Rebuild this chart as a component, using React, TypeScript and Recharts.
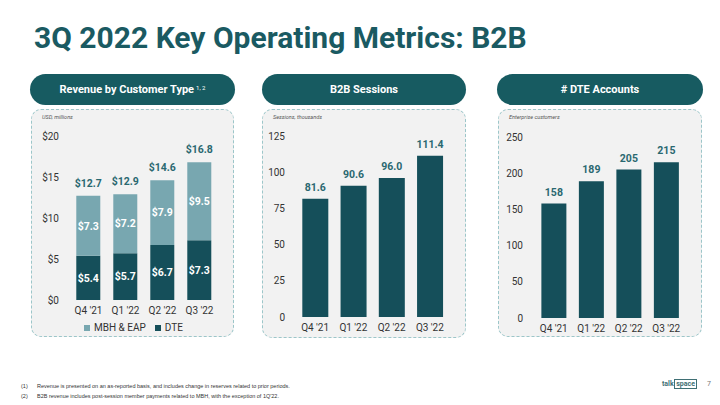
import { Bar, BarChart, LabelList, Legend, XAxis, YAxis } from "recharts";

const quarters = ["Q4 '21", "Q1 '22", "Q2 '22", "Q3 '22"];
const revenueDte = [5.4, 5.7, 6.7, 7.3];
const revenueMbh = [7.3, 7.2, 7.9, 9.5];
const revenueTotal = [12.7, 12.9, 14.6, 16.8];
const revenueTicks = [0, 5, 10, 15, 20];
const sessions = [81.6, 90.6, 96.0, 111.4];
const sessionTicks = [0, 25, 50, 75, 100, 125];
const dteAccounts = [158, 189, 205, 215];
const accountTicks = [0, 50, 100, 150, 200, 250];

const DARK = "#154f5a";
const LIGHT = "#78a7b0";
const TEAL_TEXT = "#2a6870";
const TICK = { fill: "#333", fontSize: 10, fontFamily: "Roboto" };

const revenueData = quarters.map((q, i) => ({
  q,
  dte: revenueDte[i],
  mbh: revenueMbh[i],
  total: revenueTotal[i],
}));
const sessionData = quarters.map((q, i) => ({ q, v: sessions[i] }));
const accountData = quarters.map((q, i) => ({ q, v: dteAccounts[i] }));

const topLabel = { fill: TEAL_TEXT, fontSize: 10.5, fontWeight: 700, fontFamily: "Roboto" };
const innerLabel = { fill: "#fff", fontSize: 10.5, fontWeight: 700, fontFamily: "Roboto" };

// legend lists the top stack segment first, as in the slide
function RevenueLegend({ payload }: { payload?: { value: string; color: string }[] }) {
  const items = [...(payload ?? [])].reverse();
  return (
    <div
      style={{
        display: "flex",
        justifyContent: "center",
        gap: 9,
        paddingLeft: 18,
        fontFamily: "Roboto",
        fontSize: 10,
        color: "#333",
        lineHeight: "14px",
      }}
    >
      {items.map((it) => (
        <span key={it.value} style={{ display: "flex", alignItems: "center", gap: 4 }}>
          <span style={{ width: 6, height: 6, background: it.color, display: "inline-block" }} />
          {it.value}
        </span>
      ))}
    </div>
  );
}

function Pill({ left, width, children }: { left: number; width: number; children: React.ReactNode }) {
  return (
    <div
      style={{
        position: "absolute",
        left,
        top: 74,
        width,
        height: 31,
        borderRadius: 16,
        background: "#175b61",
        color: "#fff",
        fontFamily: "Roboto",
        fontWeight: 700,
        fontSize: 11,
        display: "flex",
        alignItems: "center",
        justifyContent: "center",
      }}
    >
      {children}
    </div>
  );
}

function Panel({ left, width, height, note }: { left: number; width: number; height: number; note: string }) {
  return (
    <div
      style={{
        position: "absolute",
        left,
        top: 109,
        width: width - 2,
        height: height - 2,
        border: "1px dashed #9cc6c9",
        borderRadius: 10,
        background: "#f2f2f2",
      }}
    >
      <div
        style={{
          position: "absolute",
          left: 10,
          top: 4,
          fontFamily: "Roboto",
          fontStyle: "italic",
          fontSize: 5.5,
          color: "#555",
        }}
      >
        {note}
      </div>
    </div>
  );
}

export default function App() {
  return (
    <div
      style={{
        position: "absolute",
        left: 0,
        top: 0,
        width: 720,
        height: 405,
        background: "#fff",
        overflow: "hidden",
      }}
    >
      <div
        style={{
          position: "absolute",
          left: 34,
          top: 20,
          fontFamily: "Roboto",
          fontWeight: 700,
          fontSize: 30,
          color: "#1a5a62",
          whiteSpace: "nowrap",
        }}
      >
        3Q 2022 Key Operating Metrics: B2B
      </div>

      <Pill left={30} width={205}>
        Revenue by Customer Type
        <sup style={{ fontSize: 6, fontWeight: 400, marginLeft: 2, position: "relative", top: -2 }}>1, 2</sup>
      </Pill>
      <Pill left={262} width={204}>B2B Sessions</Pill>
      <Pill left={497} width={206}># DTE Accounts</Pill>

      <Panel left={31} width={203} height={228} note="USD, millions" />
      <Panel left={262} width={204} height={229} note="Sessions, thousands" />
      <Panel left={498} width={204} height={228} note="Enterprise customers" />

      <div style={{ position: "absolute", left: 31, top: 109 }}>
        <BarChart
          width={203}
          height={228}
          data={revenueData}
          margin={{ top: 27, right: 16, left: 0, bottom: 2 }}
          barCategoryGap="17%"
        >
          <XAxis dataKey="q" axisLine={false} tickLine={false} tickMargin={1} height={21} tick={TICK} interval={0} />
          <YAxis
            width={39}
            domain={[0, 20]}
            ticks={revenueTicks}
            axisLine={false}
            tickLine={false}
            tickMargin={5}
            tick={TICK}
            tickFormatter={(v) => `$${v}`}
          />
          <Legend content={<RevenueLegend />} />
          <Bar dataKey="dte" name="DTE" stackId="r" fill={DARK} isAnimationActive={false}>
            <LabelList dataKey="dte" position="center" style={innerLabel} formatter={(v: number) => `$${v.toFixed(1)}`} />
          </Bar>
          <Bar dataKey="mbh" name="MBH & EAP" stackId="r" fill={LIGHT} isAnimationActive={false}>
            <LabelList dataKey="mbh" position="center" style={innerLabel} formatter={(v: number) => `$${v.toFixed(1)}`} />
            <LabelList dataKey="total" position="top" offset={9} style={topLabel} formatter={(v: number) => `$${v.toFixed(1)}`} />
          </Bar>
        </BarChart>
      </div>

      <div style={{ position: "absolute", left: 262, top: 109 }}>
        <BarChart
          width={204}
          height={229}
          data={sessionData}
          margin={{ top: 27, right: 17, left: 0, bottom: 0 }}
          barCategoryGap="16.5%"
        >
          <XAxis dataKey="q" axisLine={false} tickLine={false} tickMargin={1} height={21} tick={TICK} interval={0} />
          <YAxis
            width={34}
            domain={[0, 125]}
            ticks={sessionTicks}
            axisLine={false}
            tickLine={false}
            tickMargin={5}
            tick={TICK}
          />
          <Bar dataKey="v" fill={DARK} isAnimationActive={false}>
            <LabelList dataKey="v" position="top" offset={8} style={topLabel} formatter={(v: number) => v.toFixed(1)} />
          </Bar>
        </BarChart>
      </div>

      <div style={{ position: "absolute", left: 498, top: 109 }}>
        <BarChart
          width={204}
          height={228}
          data={accountData}
          margin={{ top: 28, right: 17, left: 0, bottom: 0 }}
          barCategoryGap="17%"
        >
          <XAxis dataKey="q" axisLine={false} tickLine={false} tickMargin={1} height={19} tick={TICK} interval={0} />
          <YAxis
            width={37}
            domain={[0, 250]}
            ticks={accountTicks}
            axisLine={false}
            tickLine={false}
            tickMargin={6}
            tick={TICK}
          />
          <Bar dataKey="v" fill={DARK} isAnimationActive={false}>
            <LabelList dataKey="v" position="top" offset={8} style={topLabel} />
          </Bar>
        </BarChart>
      </div>

      <div
        style={{
          position: "absolute",
          left: 21,
          top: 381,
          fontFamily: "Liberation Sans",
          fontSize: 5.5,
          color: "#333",
          lineHeight: "10px",
        }}
      >
        <div>
          <span style={{ display: "inline-block", width: 16 }}>(1)</span>
          Revenue is presented on an as-reported basis, and includes change in reserves related to prior periods.
        </div>
        <div>
          <span style={{ display: "inline-block", width: 16 }}>(2)</span>
          B2B revenue includes post-session member payments related to MBH, with the exception of 1Q'22.
        </div>
      </div>

      <div
        style={{
          position: "absolute",
          left: 662,
          top: 379,
          fontFamily: "Roboto",
          fontWeight: 700,
          fontSize: 7,
          color: "#3f6f74",
          display: "flex",
          alignItems: "center",
        }}
      >
        <span>talk</span>
        <span style={{ border: "1px solid #3f6f74", padding: "0 1px", lineHeight: "8px", marginLeft: 0.5 }}>space</span>
        <span style={{ marginLeft: 10, color: "#777", fontWeight: 400, fontSize: 7 }}>7</span>
      </div>
    </div>
  );
}
